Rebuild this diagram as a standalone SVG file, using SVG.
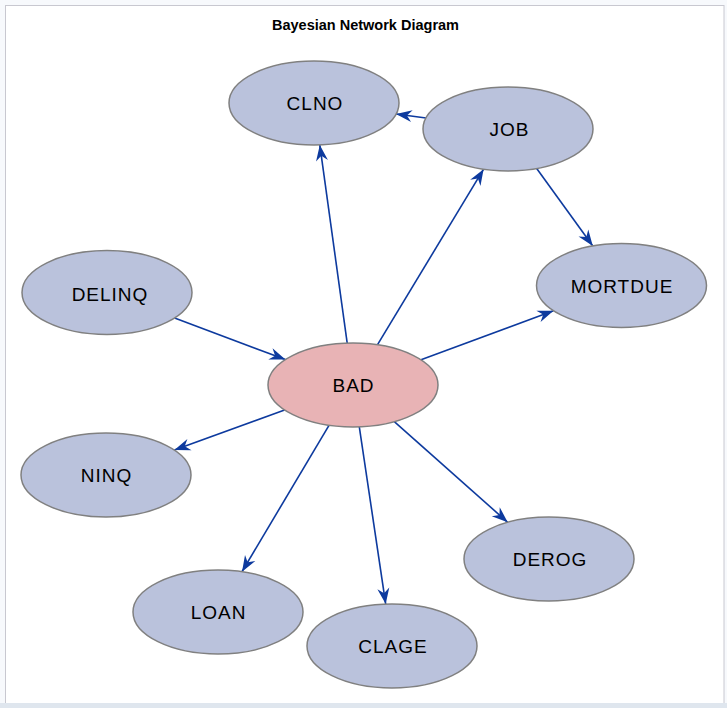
<svg xmlns="http://www.w3.org/2000/svg" width="727" height="708" viewBox="0 0 727 708">
<style>
.node ellipse{fill:#bac2dc;stroke:#808080;stroke-width:1.5}
#n-BAD ellipse{fill:#e8b3b5}
.node text{font-family:"Liberation Sans",Arial,sans-serif;font-size:19px;letter-spacing:1px;fill:#000;text-anchor:middle}
#edges line{stroke:#0d3a9e;stroke-width:1.6;fill:none;marker-end:url(#arr)}
.title{font-family:"Liberation Sans",Arial,sans-serif;font-size:14.5px;font-weight:bold;text-anchor:middle;fill:#000}
</style>
<defs>
<marker id="arr" markerUnits="userSpaceOnUse" viewBox="-17 -8 18 16" markerWidth="18" markerHeight="16" refX="0" refY="0" orient="auto">
<path d="M0,0 L-16,-6 L-11,0 L-16,6 Z" fill="#0d3a9e"/>
</marker>
</defs>
<rect x="0" y="0" width="727" height="708" fill="#f7f9fc"/>
<rect x="5.5" y="5.5" width="718.5" height="702" fill="#ffffff" stroke="#c8c8d0" stroke-width="1"/>
<rect x="0" y="703" width="727" height="5" fill="#dfe6ee"/>
<text class="title" x="365.5" y="29.5">Bayesian Network Diagram</text>
<g id="edges">
<line x1="426" y1="118" x2="396" y2="114"/>
<line x1="347.2" y1="343.1" x2="319.8" y2="144.9"/>
<line x1="377.4" y1="344.8" x2="483.6" y2="169.2"/>
<line x1="536.7" y1="168.5" x2="592.8" y2="246"/>
<line x1="421" y1="359.8" x2="553.5" y2="310.7"/>
<line x1="174.6" y1="317.9" x2="285.4" y2="359.6"/>
<line x1="284.6" y1="409.9" x2="174.4" y2="450.1"/>
<line x1="329" y1="425.3" x2="242" y2="571.7"/>
<line x1="359.3" y1="426.9" x2="385.7" y2="604.1"/>
<line x1="394.3" y1="421.7" x2="507.7" y2="522.3"/>
</g>
<g id="n-CLNO" class="node"><ellipse cx="314" cy="103" rx="85" ry="42"/><text x="315" y="110">CLNO</text></g>
<g id="n-JOB" class="node"><ellipse cx="508" cy="129" rx="85" ry="42"/><text x="509.5" y="136">JOB</text></g>
<g id="n-DELINQ" class="node"><ellipse cx="107" cy="292.5" rx="85" ry="42"/><text x="110" y="300.5">DELINQ</text></g>
<g id="n-MORTDUE" class="node"><ellipse cx="621.5" cy="285.5" rx="85" ry="42"/><text x="622" y="293">MORTDUE</text></g>
<g id="n-BAD" class="node"><ellipse cx="353" cy="385" rx="85" ry="42"/><text x="353.5" y="392">BAD</text></g>
<g id="n-NINQ" class="node"><ellipse cx="106" cy="475" rx="85" ry="42"/><text x="106.5" y="482">NINQ</text></g>
<g id="n-DEROG" class="node"><ellipse cx="549" cy="559" rx="85" ry="42"/><text x="550" y="566">DEROG</text></g>
<g id="n-LOAN" class="node"><ellipse cx="218" cy="612" rx="85" ry="42"/><text x="218.5" y="619">LOAN</text></g>
<g id="n-CLAGE" class="node"><ellipse cx="392" cy="646" rx="85" ry="42"/><text x="393" y="653">CLAGE</text></g>
</svg>
